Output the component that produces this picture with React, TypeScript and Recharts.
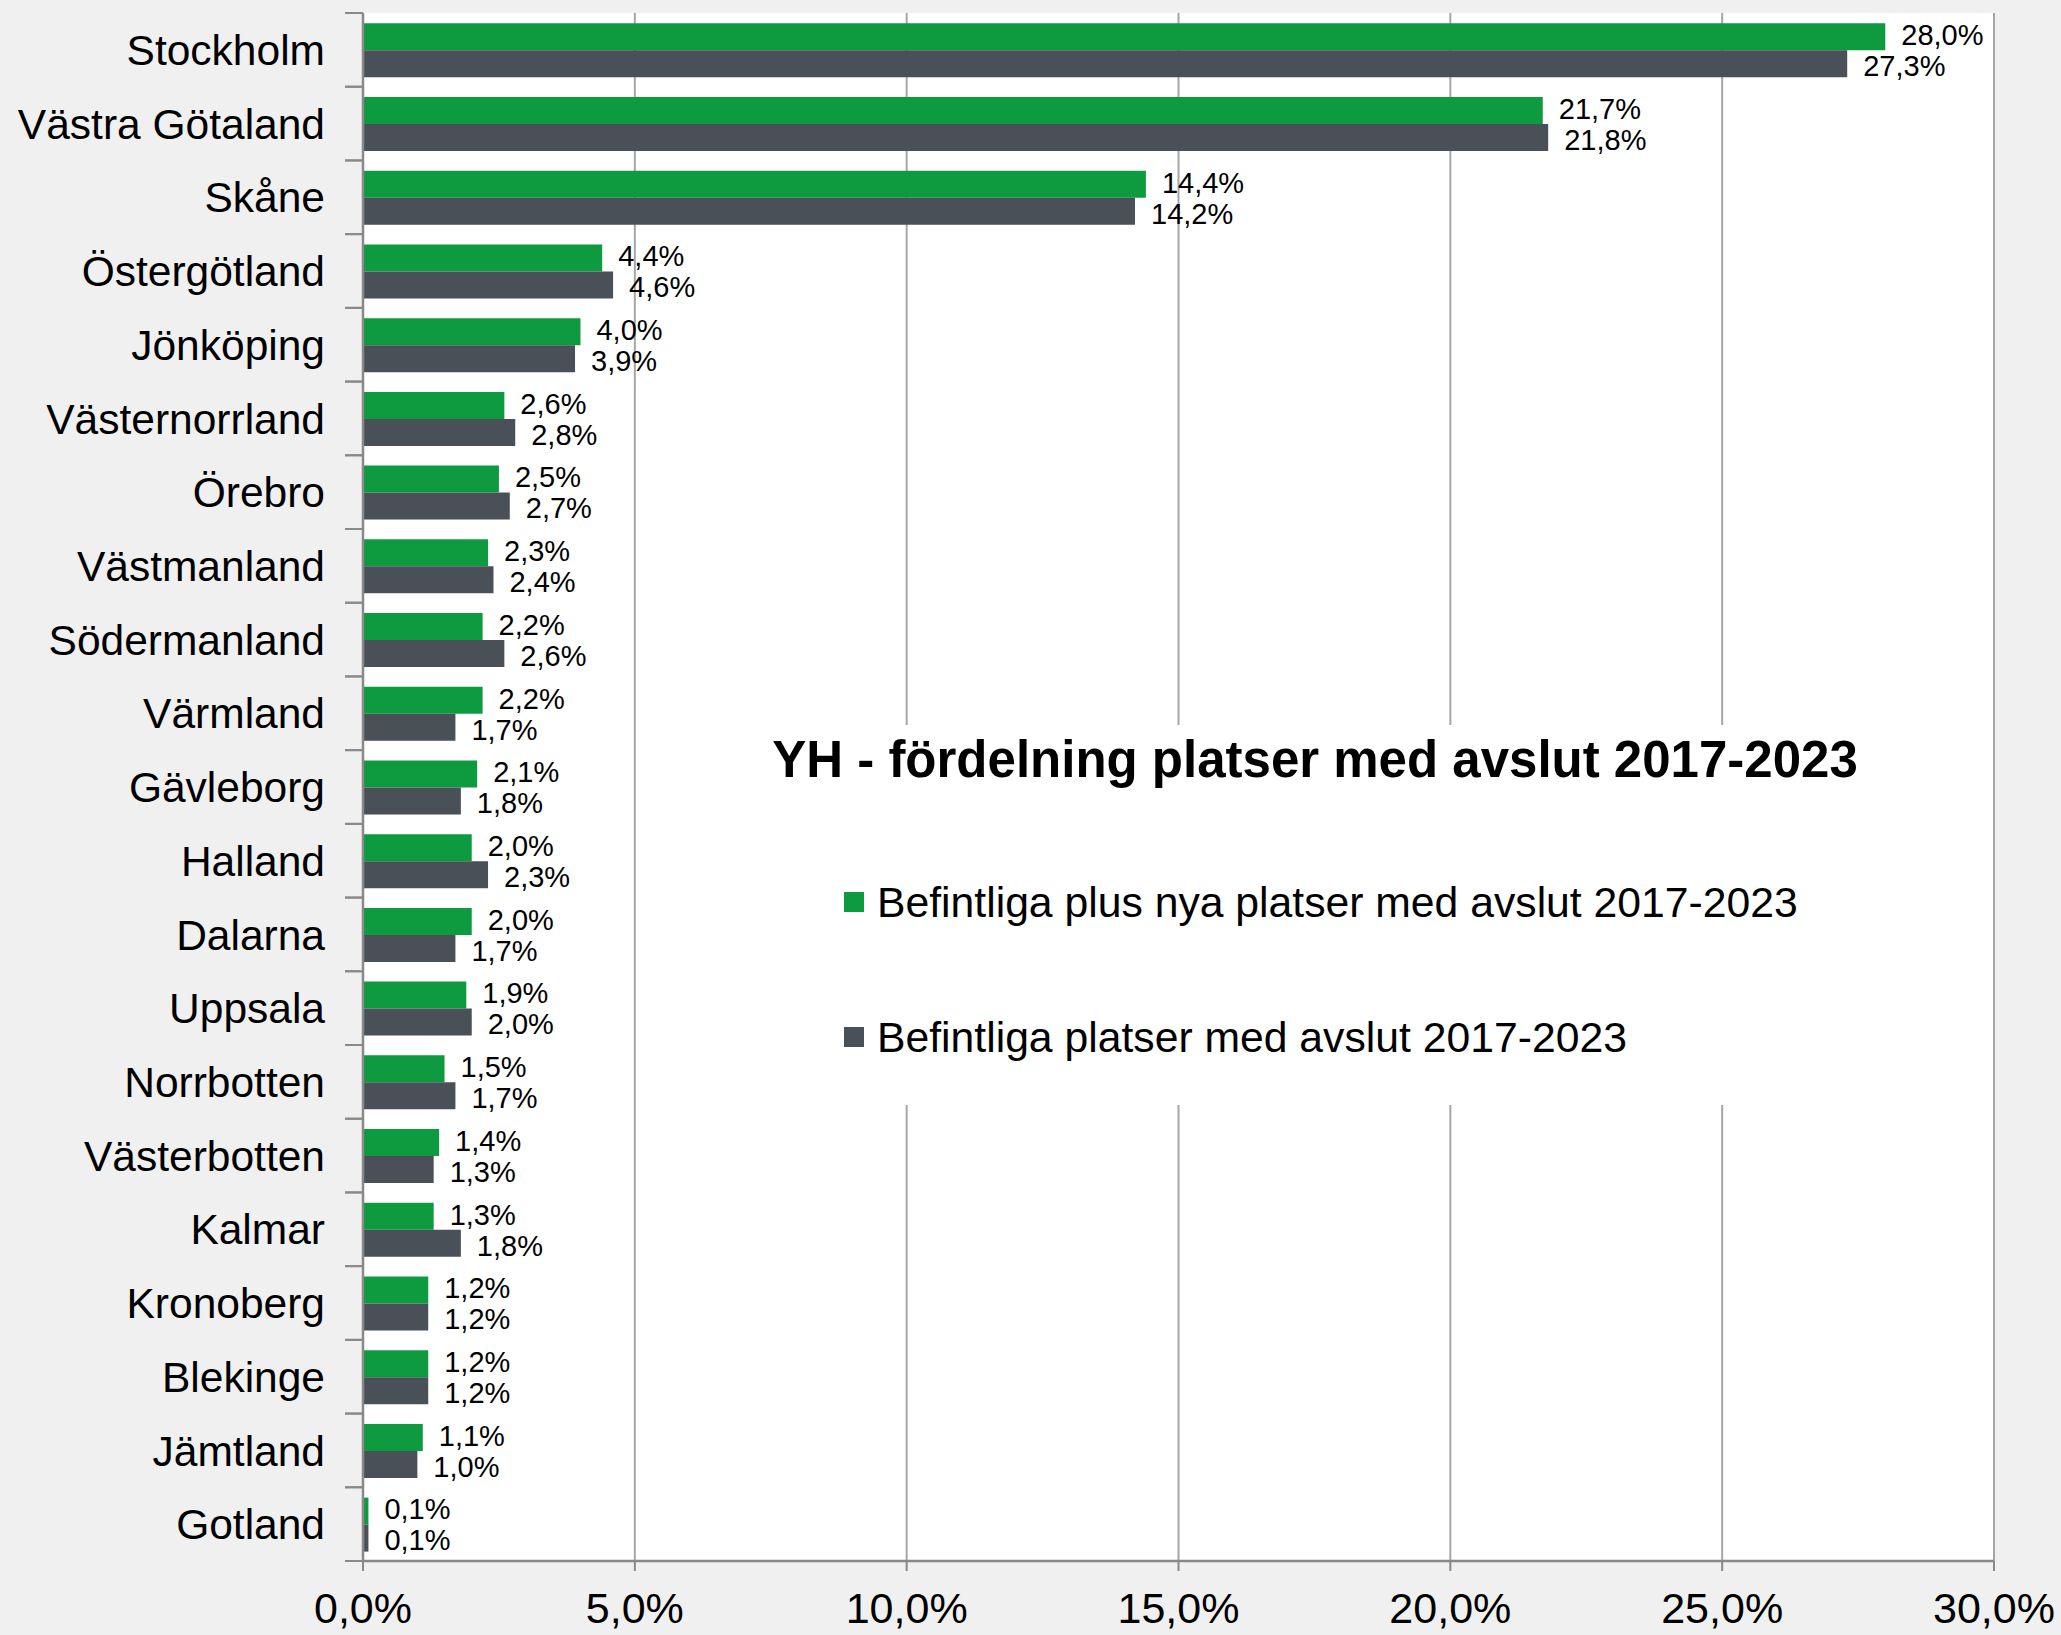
import { BarChart, Bar, XAxis, YAxis, CartesianGrid, Legend, LabelList } from 'recharts';

const regions = [
  'Stockholm', 'Västra Götaland', 'Skåne', 'Östergötland', 'Jönköping', 'Västernorrland', 'Örebro',
  'Västmanland', 'Södermanland', 'Värmland', 'Gävleborg', 'Halland', 'Dalarna', 'Uppsala',
  'Norrbotten', 'Västerbotten', 'Kalmar', 'Kronoberg', 'Blekinge', 'Jämtland', 'Gotland',
];
const plusNya = [28.0, 21.7, 14.4, 4.4, 4.0, 2.6, 2.5, 2.3, 2.2, 2.2, 2.1, 2.0, 2.0, 1.9, 1.5, 1.4, 1.3, 1.2, 1.2, 1.1, 0.1];
const befintliga = [27.3, 21.8, 14.2, 4.6, 3.9, 2.8, 2.7, 2.4, 2.6, 1.7, 1.8, 2.3, 1.7, 2.0, 1.7, 1.3, 1.8, 1.2, 1.2, 1.0, 0.1];
const xTicks = [0, 5, 10, 15, 20, 25, 30];

const chartTitle = 'YH - fördelning platser med avslut 2017-2023';
const nameNya = 'Befintliga plus nya platser med avslut 2017-2023';
const nameBef = 'Befintliga platser med avslut 2017-2023';
const legendOrder = [nameNya, nameBef];

const chartData = regions.map((region, i) => ({ region, plusNya: plusNya[i], befintliga: befintliga[i] }));

const FONT = '"Liberation Sans", Arial, sans-serif';
const W = 2061;
const H = 1635;
const TOP = 13;
const BOTTOM = 1561;
const HALF_BAND = (BOTTOM - TOP) / regions.length / 2;

const pct = (v: number) => `${Number(v).toFixed(1).replace('.', ',')}%`;

function RegionTick(props: any) {
  const { x, y, payload } = props;
  return (
    <g>
      <text x={x} y={y} dy="0.355em" textAnchor="end" fontSize={42.5} fill="#000">{payload.value}</text>
      <line x1={x + 20} x2={x + 38} y1={y - HALF_BAND} y2={y - HALF_BAND} stroke="#898989" strokeWidth={2} />
      <line x1={x + 20} x2={x + 38} y1={y + HALF_BAND} y2={y + HALF_BAND} stroke="#898989" strokeWidth={2} />
    </g>
  );
}

function TitleLegend(props: any) {
  const { payload = [] } = props;
  // vertical bar layout reverses the legend entries, so put them back in series order
  const items = legendOrder.map((name) => payload.find((p: any) => p.value === name)).filter(Boolean);
  return (
    <div style={{ background: '#fff', width: 1150, height: 380, position: 'relative', fontFamily: FONT, color: '#000' }}>
      <div style={{ position: 'absolute', top: 6, left: 0, width: '100%', textAlign: 'center', fontWeight: 'bold', fontSize: 51, lineHeight: '58px' }}>
        {chartTitle}
      </div>
      {items.map((entry: any, i: number) => (
        <div key={entry.value} style={{ position: 'absolute', left: 104, top: 152 + i * 135, height: 50, display: 'flex', alignItems: 'center' }}>
          <span style={{ width: 20, height: 20, background: entry.color, display: 'inline-block', marginRight: 13 }} />
          <span style={{ fontSize: 42.7, lineHeight: '50px', whiteSpace: 'nowrap' }}>{entry.value}</span>
        </div>
      ))}
    </div>
  );
}

export default function App() {
  return (
    <div style={{ position: 'absolute', left: 0, top: 0, width: W, height: H, background: '#f0f0f0', fontFamily: FONT }}>
      <BarChart
        width={W}
        height={H}
        data={chartData}
        layout="vertical"
        margin={{ top: TOP, right: W - 1994, left: 0, bottom: 0 }}
        barCategoryGap="14%"
        barGap={0}
      >
        <CartesianGrid horizontal={false} stroke="#a6a6a6" strokeWidth={2} fill="#fff" />
        <XAxis
          type="number"
          domain={[0, 30]}
          ticks={xTicks}
          tickFormatter={pct}
          height={H - BOTTOM}
          tickSize={10}
          tickMargin={21}
          axisLine={{ stroke: '#898989', strokeWidth: 2.5 }}
          tickLine={{ stroke: '#898989', strokeWidth: 2 }}
          tick={{ fill: '#000', fontSize: 43 }}
        />
        <XAxis xAxisId="top" orientation="top" type="number" domain={[0, 30]} height={0} tick={false} tickLine={false} axisLine={{ stroke: '#000', strokeWidth: 2 }} />
        <YAxis
          type="category"
          dataKey="region"
          width={363}
          tickSize={18}
          tickMargin={20}
          tickLine={false}
          interval={0}
          axisLine={{ stroke: '#898989', strokeWidth: 2.5 }}
          tick={<RegionTick />}
        />
        <YAxis yAxisId="right" orientation="right" type="category" dataKey="region" width={0} tick={false} tickLine={false} axisLine={{ stroke: '#000', strokeWidth: 2 }} />
        <Legend
          layout="vertical"
          align="center"
          verticalAlign="middle"
          content={<TitleLegend />}
          wrapperStyle={{ left: 740, top: 725, width: 1150, height: 380 }}
        />
        <Bar dataKey="plusNya" name={nameNya} fill="#0e9a3f" isAnimationActive={false}>
          <LabelList dataKey="plusNya" position="right" offset={16} formatter={pct} fill="#000" fontSize={29} dy={-2} />
        </Bar>
        <Bar dataKey="befintliga" name={nameBef} fill="#495057" isAnimationActive={false}>
          <LabelList dataKey="befintliga" position="right" offset={16} formatter={pct} fill="#000" fontSize={29} dy={2} />
        </Bar>
      </BarChart>
    </div>
  );
}
